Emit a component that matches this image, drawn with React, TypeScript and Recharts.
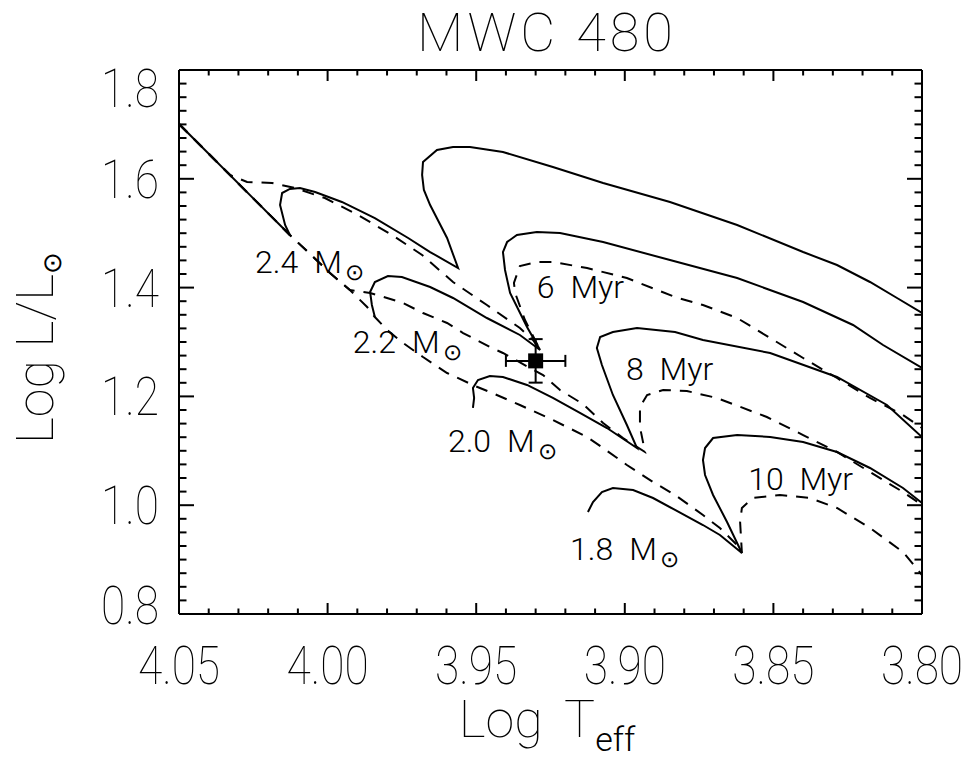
import React from 'react';
import { ComposedChart, Line, Scatter, ErrorBar, XAxis, YAxis, ReferenceDot } from 'recharts';

// PMS evolutionary tracks (solid), [log Teff, log L/Lsun]
const track24: [number, number][] = [
  [3.8, 1.3533], [3.8084, 1.3809], [3.8175, 1.4103], [3.8286, 1.4415], [3.84, 1.4654], [3.8622, 1.5151],
  [3.8848, 1.5574], [3.9073, 1.5923], [3.9242, 1.6217], [3.941, 1.6493], [3.9521, 1.6585], [3.9578, 1.6585],
  [3.9632, 1.6529], [3.9679, 1.6309], [3.9682, 1.607], [3.9676, 1.5794], [3.9655, 1.5518], [3.9598, 1.4912],
  [3.9561, 1.436], [3.9655, 1.4654], [3.9729, 1.4912], [3.9841, 1.5279], [3.9952, 1.5574], [4.0042, 1.5757],
  [4.0093, 1.5831], [4.0127, 1.5813], [4.0153, 1.5739], [4.016, 1.5518], [4.0143, 1.5151], [4.0127, 1.4967],
];
const track22: [number, number][] = [
  [3.8, 1.2522], [3.8131, 1.2945], [3.8232, 1.3313], [3.84, 1.3735], [3.8622, 1.4176], [3.8848, 1.4507],
  [3.9073, 1.4838], [3.9218, 1.5004], [3.9296, 1.5022], [3.9363, 1.4967], [3.9396, 1.4838], [3.941, 1.4654],
  [3.9403, 1.4324], [3.9386, 1.3901], [3.9329, 1.3276], [3.9285, 1.2853], [3.9353, 1.3129], [3.9464, 1.3441],
  [3.9578, 1.3809], [3.9655, 1.4011], [3.975, 1.4195], [3.9797, 1.4213], [3.9841, 1.4103], [3.9857, 1.3919],
  [3.9851, 1.368], [3.9841, 1.346],
];
const track20: [number, number][] = [
  [3.8, 1.1254], [3.8118, 1.1842], [3.8286, 1.2357], [3.8511, 1.2798], [3.8737, 1.3037], [3.8831, 1.3184],
  [3.8959, 1.3257], [3.904, 1.3184], [3.9083, 1.3092], [3.9094, 1.289], [3.9077, 1.2577], [3.904, 1.2026],
  [3.8993, 1.1474], [3.8959, 1.1051], [3.906, 1.1419], [3.9151, 1.1695], [3.9242, 1.1971], [3.9329, 1.221],
  [3.941, 1.2357], [3.9454, 1.2375], [3.9494, 1.2301], [3.9511, 1.2154], [3.9507, 1.1971], [3.9511, 1.1787],
];
const track18: [number, number][] = [
  [3.8, 1.004], [3.8064, 1.0316], [3.8175, 1.0684], [3.8286, 1.0978], [3.84, 1.1162], [3.8511, 1.1254],
  [3.8622, 1.129], [3.8703, 1.1235], [3.873, 1.1051], [3.8737, 1.0831], [3.873, 1.0555], [3.8703, 1.0188],
  [3.8656, 0.9691], [3.8606, 0.9121], [3.868, 0.9452], [3.8737, 0.9636], [3.8831, 0.9912], [3.8905, 1.0132],
  [3.8972, 1.0279], [3.904, 1.0316], [3.9077, 1.0243], [3.9107, 1.0059], [3.9124, 0.9875],
];
const zams: [number, number][] = [[4.05, 1.7007], [4.0127, 1.4967]];

// isochrones (dashed)
const iso6: [number, number][] = [
  [4.05, 1.7007], [4.0328, 1.607], [4.0271, 1.5941], [4.0187, 1.5923], [4.011, 1.5831], [4.0009, 1.5647],
  [3.9898, 1.5335], [3.9783, 1.4967], [3.9682, 1.4599], [3.9578, 1.4103], [3.9464, 1.368], [3.9353, 1.3257],
  [3.9309, 1.3037], [3.9285, 1.2853], [3.9336, 1.3404], [3.9369, 1.3901], [3.9373, 1.4085], [3.9353, 1.4397],
  [3.9296, 1.4471], [3.9242, 1.4471], [3.9127, 1.436], [3.8993, 1.4176], [3.8831, 1.3827], [3.8737, 1.368],
  [3.8622, 1.3441], [3.8511, 1.3074], [3.84, 1.2706], [3.8286, 1.2338], [3.8175, 1.1971], [3.8064, 1.1658],
  [3.8, 1.1419],
];
const iso8: [number, number][] = [
  [4.05, 1.7007], [4.0127, 1.4967], [4.0059, 1.4618], [3.9992, 1.4268], [3.9925, 1.3956], [3.9857, 1.3901],
  [3.98, 1.3809], [3.9746, 1.3717], [3.9679, 1.3533], [3.9598, 1.3349], [3.9544, 1.3165], [3.9454, 1.2908],
  [3.941, 1.2798], [3.9319, 1.2522], [3.9275, 1.2393], [3.9218, 1.2118], [3.9141, 1.186], [3.9073, 1.1511],
  [3.9006, 1.1235], [3.8932, 1.0978], [3.8949, 1.1438], [3.8949, 1.1805], [3.8925, 1.2026], [3.8871, 1.2118],
  [3.8791, 1.2099], [3.869, 1.1971], [3.8522, 1.1621], [3.84, 1.129], [3.8286, 1.0978], [3.8175, 1.061],
  [3.8064, 1.0243], [3.8, 1.0004],
];
const iso10: [number, number][] = [
  [4.05, 1.7007], [4.0127, 1.4967], [4.0059, 1.4618], [3.9992, 1.4268], [3.9925, 1.3956], [3.9867, 1.3643],
  [3.9841, 1.346], [3.98, 1.3221], [3.9746, 1.2982], [3.9679, 1.2724], [3.9598, 1.243], [3.9504, 1.2191],
  [3.9454, 1.2081], [3.9353, 1.1842], [3.9242, 1.1566], [3.9127, 1.1254], [3.9073, 1.1051], [3.8993, 1.0739],
  [3.8905, 1.0426], [3.8831, 1.0188], [3.8737, 0.982], [3.868, 0.9581], [3.8622, 0.9268], [3.8606, 0.9121],
  [3.8612, 0.9691], [3.8606, 0.9949], [3.8569, 1.0132], [3.8478, 1.0188], [3.8377, 1.0132], [3.8286, 0.9949],
  [3.8175, 0.9581], [3.8064, 0.914], [3.8, 0.8717],
];

// MWC 480
const star = [{ x: 3.93, y: 1.2653, ex: 0.01, ey: 0.04 }];

// label anchors (left / baseline)
const massLabels = [
  { x: 4.0244, y: 1.4268, text: '2.4' },
  { x: 3.9915, y: 1.2798, text: '2.2' },
  { x: 3.9595, y: 1.0978, text: '2.0' },
  { x: 3.9184, y: 0.8993, text: '1.8' },
];
const ageLabels = [
  { x: 3.9296, y: 1.3809, text: '6 Myr' },
  { x: 3.8996, y: 1.2301, text: '8 Myr' },
  { x: 3.8585, y: 1.0279, text: '10 Myr' },
];

const xTicks = Array.from({ length: 26 }, (_, i) => Number((3.8 + i * 0.01).toFixed(2)));
const yTicks = Array.from({ length: 41 }, (_, i) => Number((0.8 + i * 0.025).toFixed(3)));

const FONT = "Roboto, 'DejaVu Sans', sans-serif";
const SUN = "'DejaVu Sans', sans-serif";
const W = 100;
const pts = (a: [number, number][]) => a.map(([x, y]) => ({ x, y }));
const isMajor = (v: number, step: number) => Math.abs(v / step - Math.round(v / step)) < 1e-6;

const BottomTick = ({ x, y, payload }: any) => {
  const major = isMajor(payload.value, 0.05);
  return (
    <g>
      <line x1={x} y1={y} x2={x} y2={y - (major ? 11 : 5.5)} stroke="#000" strokeWidth={2} />
      {major && (
        <text transform={`translate(${x},${y + 70}) scale(0.82,1)`} textAnchor="middle" fontSize={54}
          fontFamily={FONT} fontWeight={W} fill="#000">{payload.value.toFixed(2)}</text>
      )}
    </g>
  );
};
const TopTick = ({ x, y, payload }: any) => {
  const major = isMajor(payload.value, 0.05);
  return <line x1={x} y1={y} x2={x} y2={y + (major ? 11 : 5.5)} stroke="#000" strokeWidth={2} />;
};
const LeftTick = ({ x, y, payload }: any) => {
  const v = payload.value;
  const major = isMajor(v, 0.2);
  let ly = y + 19;
  if (v > 1.799) ly += 18;
  if (v < 0.801) ly -= 9;
  return (
    <g>
      <line x1={x} y1={y} x2={x + (major ? 15 : 7.5)} y2={y} stroke="#000" strokeWidth={2} />
      {major && (
        <text transform={`translate(${x - 20},${ly}) scale(0.82,1)`} textAnchor="end" fontSize={54}
          fontFamily={FONT} fontWeight={W} fill="#000">{v.toFixed(1)}</text>
      )}
    </g>
  );
};
const RightTick = ({ x, y, payload }: any) => {
  const major = isMajor(payload.value, 0.2);
  return <line x1={x} y1={y} x2={x - (major ? 15 : 7.5)} y2={y} stroke="#000" strokeWidth={2} />;
};

const massLabel = (text: string) => (p: any) => (
  <text x={p.viewBox.x} y={p.viewBox.y} fontSize={32} fontFamily={FONT} fontWeight={300} fill="#000">
    {text}
    <tspan dx={16}>M</tspan>
    <tspan dx={3} dy={7} fontSize={23} fontFamily={SUN}>⊙</tspan>
  </text>
);
const ageLabel = (text: string) => (p: any) => (
  <text x={p.viewBox.x} y={p.viewBox.y} fontSize={32} fontFamily={FONT} fontWeight={300} fill="#000"
    wordSpacing={8}>{text}</text>
);

const Square = ({ cx, cy }: any) => <rect x={cx - 7.5} y={cy - 7.5} width={15} height={15} fill="#000" />;

const solid = { stroke: '#000', strokeWidth: 2, dot: false, isAnimationActive: false, type: 'linear' as const };
const dashed = { ...solid, strokeDasharray: '12 9' };
const frame = { stroke: '#000', strokeWidth: 2 };

export default function App() {
  return (
    <div style={{ position: 'absolute', left: 0, top: 0, width: 976, height: 759, background: '#fff' }}>
      <ComposedChart width={976} height={759} margin={{ top: 69, right: 53, bottom: 144, left: 178 }}>
        <XAxis xAxisId={0} type="number" dataKey="x" domain={[3.8, 4.05]} reversed allowDataOverflow
          ticks={xTicks} interval={0} height={1} tickSize={0} tickMargin={0} tick={<BottomTick />}
          axisLine={frame} tickLine={false} />
        <XAxis xAxisId="t" orientation="top" type="number" dataKey="x" domain={[3.8, 4.05]} reversed allowDataOverflow
          ticks={xTicks} interval={0} height={1} tickSize={0} tickMargin={0} tick={<TopTick />}
          axisLine={frame} tickLine={false} />
        <YAxis yAxisId={0} type="number" dataKey="y" domain={[0.8, 1.8]} allowDataOverflow
          ticks={yTicks} interval={0} width={1} tickSize={0} tickMargin={0} tick={<LeftTick />}
          axisLine={frame} tickLine={false} />
        <YAxis yAxisId="r" orientation="right" type="number" dataKey="y" domain={[0.8, 1.8]} allowDataOverflow
          ticks={yTicks} interval={0} width={1} tickSize={0} tickMargin={0} tick={<RightTick />}
          axisLine={frame} tickLine={false} />

        <Line data={pts(zams)} dataKey="y" {...solid} />
        <Line data={pts(track24)} dataKey="y" {...solid} />
        <Line data={pts(track22)} dataKey="y" {...solid} />
        <Line data={pts(track20)} dataKey="y" {...solid} />
        <Line data={pts(track18)} dataKey="y" {...solid} />
        <Line data={pts(iso6)} dataKey="y" {...dashed} />
        <Line data={pts(iso8)} dataKey="y" {...dashed} />
        <Line data={pts(iso10)} dataKey="y" {...dashed} />

        <Scatter data={star} dataKey="y" shape={<Square />} isAnimationActive={false}>
          <ErrorBar dataKey="ex" direction="x" width={6} stroke="#000" strokeWidth={2} />
          <ErrorBar dataKey="ey" direction="y" width={7} stroke="#000" strokeWidth={2} />
        </Scatter>

        {massLabels.map((l) => (
          <ReferenceDot key={l.text} x={l.x} y={l.y} r={0} stroke="none" fill="none" label={massLabel(l.text)} />
        ))}
        {ageLabels.map((l) => (
          <ReferenceDot key={l.text} x={l.x} y={l.y} r={0} stroke="none" fill="none" label={ageLabel(l.text)} />
        ))}
      </ComposedChart>

      <svg width={976} height={759} style={{ position: 'absolute', left: 0, top: 0, pointerEvents: 'none' }}>
        <text x={547} y={51} textAnchor="middle" fontSize={54} letterSpacing={4} fontFamily={FONT} fontWeight={W}>MWC 480</text>
        <text x={547} y={737} textAnchor="middle" fontSize={52} wordSpacing={10} fontFamily={FONT} fontWeight={W}>
          Log T<tspan dy={14} fontSize={34} fontWeight={300}>eff</tspan>
        </text>
        <text transform="translate(53,348) rotate(-90)" textAnchor="middle" fontSize={52} fontFamily={FONT} fontWeight={W}>
          Log L/L<tspan dy={8} fontSize={26} fontFamily={SUN}>⊙</tspan>
        </text>
      </svg>
    </div>
  );
}
